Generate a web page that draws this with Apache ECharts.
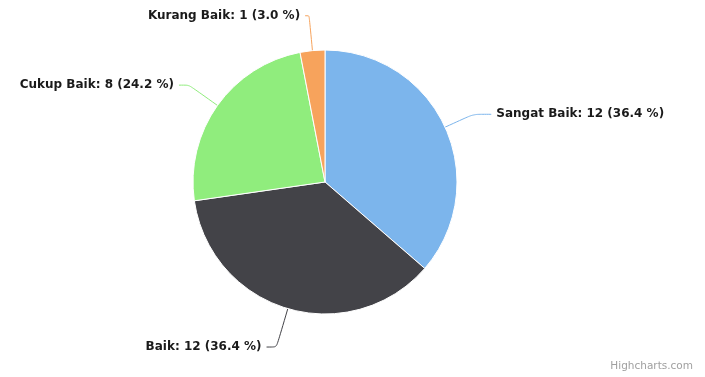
<!DOCTYPE html>
<html>
<head>
<meta charset="utf-8">
<script src="https://cdn.jsdelivr.net/npm/echarts@6/dist/echarts.min.js"></script>
<style>
html,body{margin:0;padding:0;background:#fff;}
#c{width:705px;height:377px;}
</style>
</head>
<body>
<div id="c"></div>
<script>
var categories = ['Sangat Baik', 'Baik', 'Cukup Baik', 'Kurang Baik'];
var values = [12, 12, 8, 1];
var colors = ['#7cb5ec', '#434348', '#90ed7d', '#f7a35c'];
var lineLengths = [31, 40, 35, 35];
var lineLengths2 = [18, 10, 10, 4];

var total = values.reduce(function (a, b) { return a + b; }, 0);
var data = categories.map(function (c, i) {
  return {
    name: c,
    value: values[i],
    itemStyle: { color: colors[i] },
    labelLine: { length: lineLengths[i], length2: lineLengths2[i], lineStyle: { color: colors[i] } }
  };
});

var chart = echarts.init(document.getElementById('c'));
chart.setOption({
  backgroundColor: '#ffffff',
  animation: false,
  series: [{
    type: 'pie',
    center: [325, 182],
    radius: 132,
    startAngle: 90,
    clockwise: true,
    avoidLabelOverlap: false,
    data: data,
    itemStyle: { borderColor: '#ffffff', borderWidth: 1 },
    label: {
      show: true,
      position: 'outside',
      alignTo: 'none',
      distanceToLabelLine: 5,
      color: '#1a1a1a',
      fontFamily: 'DejaVu Sans',
      fontWeight: 'bold',
      fontSize: 12,
      formatter: function (p) {
        return p.name + ': ' + p.value + ' (' + (p.value / total * 100).toFixed(1) + ' %)';
      }
    },
    labelLine: { show: true, smooth: 0.2, lineStyle: { width: 1 } }
  }],
  graphic: [{
    type: 'text',
    right: 12,
    bottom: 5,
    style: { text: 'Highcharts.com', fill: '#a0a0a0', font: '10.5px "DejaVu Sans"' }
  }]
});
</script>
</body>
</html>
